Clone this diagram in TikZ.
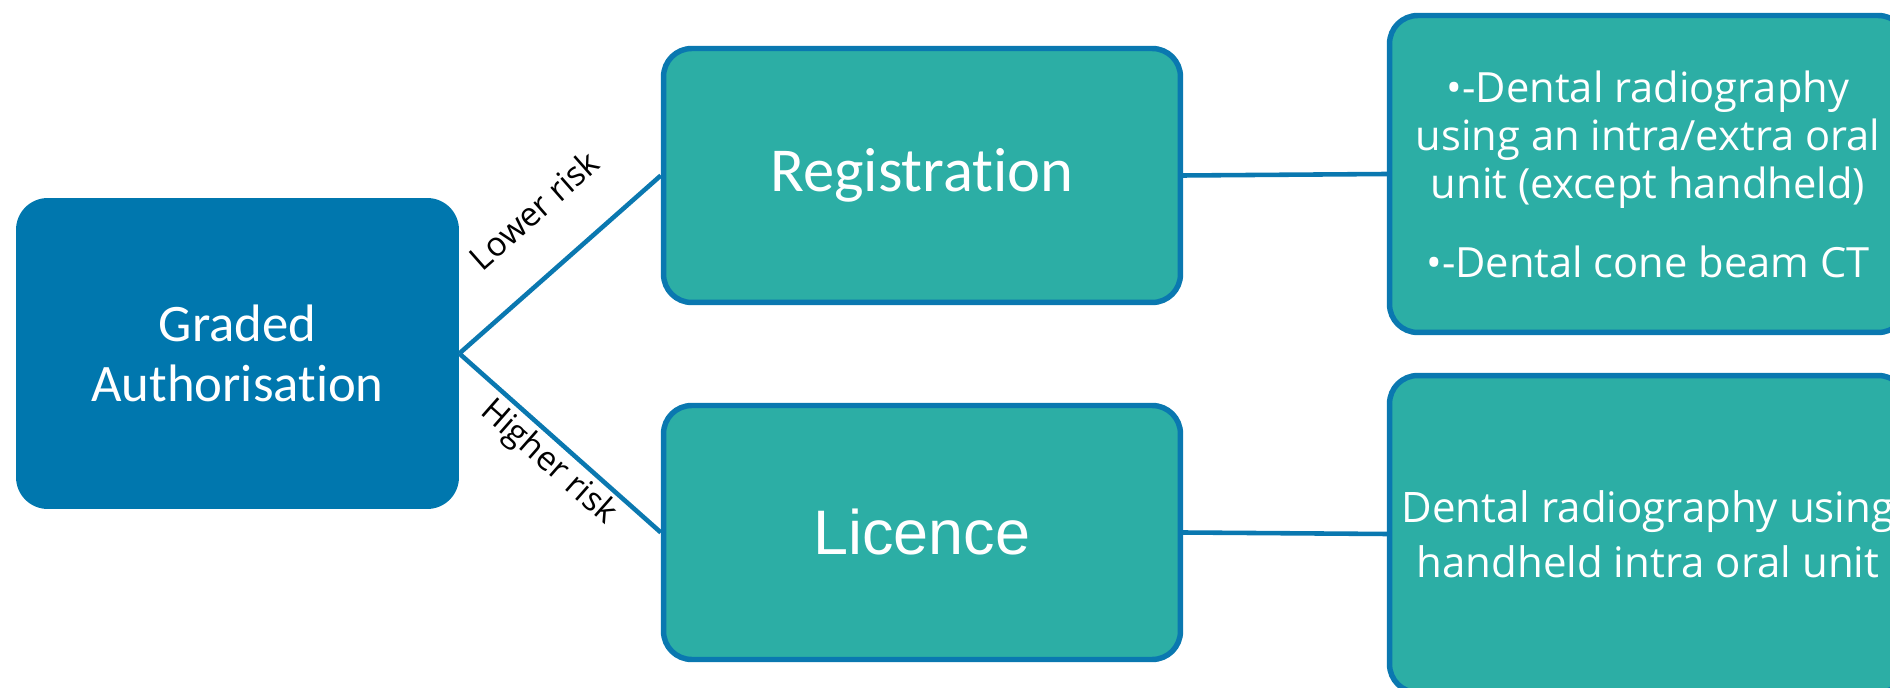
\documentclass[tikz,border=0pt]{standalone}
\usepackage{fontspec}
\setmainfont{Open Sans}
\newfontfamily\carlito[Ligatures=NoCommon]{Carlito}
\newfontfamily\arialfont{Liberation Sans}

\definecolor{gablue}{HTML}{0077AE}
\definecolor{boxteal}{HTML}{2CAEA5}
\definecolor{edgeblue}{HTML}{0A78B0}

\tikzset{
  gradedbox/.style={fill=gablue, rounded corners=18pt, minimum width=8.86cm,
    minimum height=6.22cm, text=white, align=center, inner sep=0pt},
  levelbox/.style={draw=edgeblue, line width=3.1pt, fill=boxteal, rounded corners=16pt,
    minimum width=10.34cm, minimum height=5.08cm, text=white, align=center, inner sep=0pt},
  usebox/.style={levelbox, minimum height=6.34cm},
  link/.style={edgeblue, line width=2.6pt},
  risklabel/.style={font=\fontsize{19}{22}\selectfont, inner sep=0pt},
}

\begin{document}
\begin{tikzpicture}[x=0.02cm, y=-0.02cm]
                        \useasboundingbox (0,0) rectangle (1890,688);
                        \clip (0,0) rectangle (1890,688);

                        % 左のボックス
                        \node[gradedbox, font=\carlito\fontsize{30}{34.1}\selectfont] (ga) at (237.5,353.5) {Graded\\Authorisation};

                        % 中央のボックス
                        \node[levelbox, font=\carlito\fontsize{35.6}{40}\selectfont] (reg) at (922,175.5) {Registration};
                        \node[levelbox, font=\arialfont\fontsize{35.8}{40}\selectfont] (lic) at (922,532.5) {Licence};

                        % 右のボックス
                        \node[usebox, font=\fontsize{23.7}{27.3}\selectfont] (reguse) at (1648,174) {\textbullet-Dental radiography\\using an intra/extra oral\\unit (except handheld)\\[17.6pt]\textbullet-Dental cone beam CT};
                        \node[usebox, font=\fontsize{23.9}{31.3}\selectfont] (licuse) at (1648,534) {Dental radiography using\\handheld intra oral unit};

                        % 接続線
                        \draw[link] (ga.east) -- (reg.west);
                        \draw[link] (ga.east) -- (lic.west);
                        \draw[link] (reg.east) -- (reguse.west);
                        \draw[link] (lic.east) -- (licuse.west);

                        % リスクのラベル
                        \node[risklabel, rotate=41.4] (lowrisk) at (534,210) {Lower risk};
                        \node[risklabel, rotate=-41.4] (highrisk) at (548,463) {Higher risk};
\end{tikzpicture}
\end{document}
